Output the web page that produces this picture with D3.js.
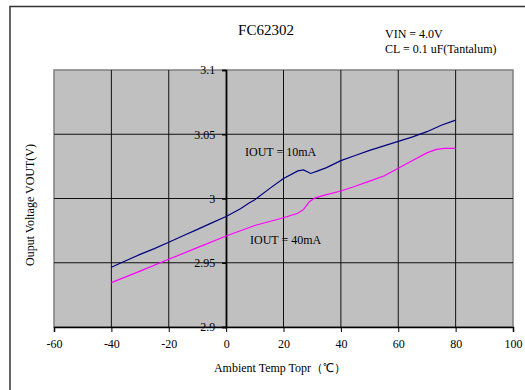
<!DOCTYPE html>
<html><head><meta charset="utf-8">
<script src="https://cdn.jsdelivr.net/npm/d3@7/dist/d3.min.js"></script>
<style>
body{margin:0;background:#fff;}
svg text{font-family:"Liberation Serif","Times New Roman",serif;fill:#000;}
</style></head>
<body>
<svg id="c" width="525" height="390"></svg>
<script>
const title = "FC62302";
const notes = ["VIN = 4.0V", "CL = 0.1 uF(Tantalum)"];
const xTicks = [-60, -40, -20, 0, 20, 40, 60, 80, 100];
const xTickLabels = ["-60", "-40", "-20", "0", "20", "40", "60", "80", "100"];
const yTicks = [2.9, 2.95, 3, 3.05, 3.1];
const yTickLabels = ["2.9", "2.95", "3", "3.05", "3.1"];
const temp10 = [-40,-35,-30,-25,-20,-15,-10,-5,0,5,8,10,15,20,25,27,29.5,32,35,40,45,50,55,60,65,70,75,80];
const vout10 = [2.9465,2.9515,2.9565,2.961,2.966,2.971,2.976,2.981,2.986,2.992,2.9965,2.999,3.0075,3.0155,3.0215,3.0222,3.0195,3.0215,3.024,3.0295,3.0335,3.0375,3.041,3.0445,3.048,3.052,3.057,3.061];
const temp40 = [-40,-30,-20,-10,0,10,20,25,27,29,31,35,40,45,50,55,60,65,70,73,76,80];
const vout40 = [2.9345,2.9435,2.9527,2.9618,2.9708,2.979,2.985,2.9885,2.9915,2.9975,3.0005,3.003,3.0058,3.0095,3.0135,3.0175,3.0235,3.0295,3.0355,3.038,3.039,3.039];
const seriesNames = ["IOUT = 10mA", "IOUT = 40mA"];
const xTitle = "Ambient Temp Topr（℃）";
const yTitle = "Ouput Voltage VOUT(V)";

const svg = d3.select("#c");
const L = 54, R = 513, T = 70, B = 327;
const x = d3.scaleLinear().domain([-60, 100]).range([L, R]);
const y = d3.scaleLinear().domain([2.9, 3.1]).range([B, T]);

// outer frame
svg.append("rect").attr("x", 10).attr("y", 6.5).attr("width", 530).attr("height", 400)
  .attr("fill", "none").attr("stroke", "#333").attr("stroke-width", 1.5);

// plot background
svg.append("rect").attr("x", L).attr("y", T).attr("width", R - L).attr("height", B - T)
  .attr("fill", "#c0c0c0").attr("stroke", "#808080").attr("stroke-width", 1.5);

// gridlines
svg.append("g").selectAll("line").data(xTicks.slice(1, -1)).join("line")
  .attr("x1", d => x(d)).attr("x2", d => x(d)).attr("y1", T).attr("y2", B)
  .attr("stroke", "#111").attr("stroke-width", 1);
svg.append("g").selectAll("line").data(yTicks.slice(1, -1)).join("line")
  .attr("x1", L).attr("x2", R).attr("y1", d => y(d)).attr("y2", d => y(d))
  .attr("stroke", "#111").attr("stroke-width", 1);

// x axis at bottom
const xa = svg.append("g").attr("transform", `translate(0,${B})`)
  .call(d3.axisBottom(x).tickValues(xTicks).tickSize(5).tickPadding(7).tickFormat((d, i) => xTickLabels[i]));
xa.select(".domain").attr("stroke", "#000").attr("stroke-width", 1.5);
xa.selectAll(".tick line").attr("stroke", "#000");
xa.selectAll("text").attr("font-size", 12).attr("font-family", "Liberation Serif");

// y axis at x=0
const ya = svg.append("g").attr("transform", `translate(${x(0)},0)`)
  .call(d3.axisLeft(y).tickValues(yTicks).tickSize(4).tickPadding(7).tickFormat((d, i) => yTickLabels[i]));
ya.select(".domain").attr("stroke", "#000").attr("stroke-width", 1.5);
ya.selectAll(".tick line").attr("stroke", "#000").attr("stroke-width", 1.5);
ya.selectAll("text").attr("font-size", 12).attr("font-family", "Liberation Serif");

// lines
const line = d3.line().x(d => x(d[0])).y(d => y(d[1]));
svg.append("path").datum(temp10.map((t, i) => [t, vout10[i]])).attr("d", line)
  .attr("fill", "none").attr("stroke", "#000080").attr("stroke-width", 1.2);
svg.append("path").datum(temp40.map((t, i) => [t, vout40[i]])).attr("d", line)
  .attr("fill", "none").attr("stroke", "#ff00ff").attr("stroke-width", 1.2);

// series labels
svg.append("text").attr("x", 245).attr("y", 156).attr("font-size", 12).text(seriesNames[0]);
svg.append("text").attr("x", 250).attr("y", 244).attr("font-size", 12).text(seriesNames[1]);

// titles
svg.append("text").attr("x", 266).attr("y", 35).attr("text-anchor", "middle").attr("font-size", 15).text(title);
svg.append("text").attr("x", 385).attr("y", 38).attr("font-size", 12).text(notes[0]);
svg.append("text").attr("x", 385).attr("y", 53).attr("font-size", 12).text(notes[1]);
svg.append("text").attr("x", 280).attr("y", 372).attr("text-anchor", "middle").attr("font-size", 12).text(xTitle);
svg.append("text").attr("transform", "translate(34,205) rotate(-90)").attr("text-anchor", "middle")
  .attr("font-size", 12).text(yTitle);
</script>
</body></html>
